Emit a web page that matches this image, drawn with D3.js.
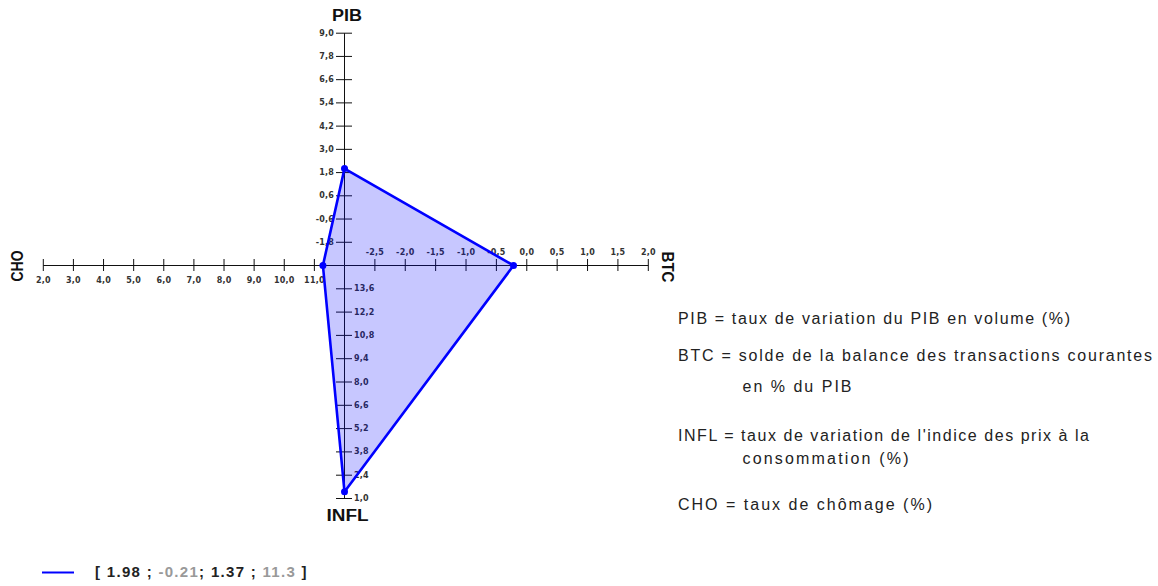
<!DOCTYPE html>
<html>
<head>
<meta charset="utf-8">
<script src="https://cdn.jsdelivr.net/npm/d3@7"></script>
<style>
  body { margin: 0; background: #fff; }
  svg { display: block; }
  .tick text { font-family: "DejaVu Sans", sans-serif; font-size: 8px; font-weight: bold; fill: #333; letter-spacing: 0.2px; }
  .tick line, .domain { stroke: #111; }
</style>
</head>
<body>
<svg id="chart" width="1158" height="586"></svg>
<script>
// axis names and the values of the single series
const axisNames = ["PIB", "BTC", "INFL", "CHO"];
const seriesValues = [1.98, -0.21, 1.37, 11.3];
const valueColors = ["#222", "#999", "#222", "#999"];

// tick values
const pibTicks = [-1.8, -0.6, 0.6, 1.8, 3.0, 4.2, 5.4, 6.6, 7.8, 9.0];
const btcTicks = [-2.5, -2.0, -1.5, -1.0, -0.5, 0.0, 0.5, 1.0, 1.5, 2.0];
const inflTicks = [13.6, 12.2, 10.8, 9.4, 8.0, 6.6, 5.2, 3.8, 2.4, 1.0];
const choTicks = [11, 10, 9, 8, 7, 6, 5, 4, 3, 2];

// scale ends (value at the centre, value at the far end)
const pibDomain = [-3, 9];
const btcDomain = [-3, 2];
const inflDomain = [15, 1];
const choDomain = [12, 2];

// definitions shown at the right
const notes = [
    "PIB = taux de variation du PIB en volume (%)",
    "BTC = solde de la balance des transactions courantes",
    "en % du PIB",
    "INFL = taux de variation de l'indice des prix à la",
    "consommation (%)",
    "CHO = taux de chômage (%)"
];

const svg = d3.select("#chart");
const cx = 344, cy = 265;

const fmt = d3.formatLocale({ decimal: ",", thousands: " ", grouping: [3], currency: ["", ""], minus: "-" }).format(".1f");

const pib = d3.scaleLinear().domain(pibDomain).range([0, -232.3]);
const btc = d3.scaleLinear().domain(btcDomain).range([0, 303.8]);
const infl = d3.scaleLinear().domain(inflDomain).range([0, 233]);
const cho = d3.scaleLinear().domain(choDomain).range([0, -301.2]);

const g = svg.append("g").attr("transform", `translate(${cx},${cy})`);

// four half axes, ticks cross the axis line
g.append("g")
    .call(d3.axisLeft(pib).tickValues(pibTicks).tickFormat(fmt).tickSize(8).tickSizeOuter(0).tickPadding(2))
    .call(a => a.selectAll(".tick line").attr("x1", 8));

g.append("g")
    .call(d3.axisTop(btc).tickValues(btcTicks).tickFormat(fmt).tickSize(6).tickSizeOuter(0).tickPadding(4))
    .call(a => a.selectAll(".tick line").attr("y1", 6));

g.append("g")
    .call(d3.axisRight(infl).tickValues(inflTicks).tickFormat(fmt).tickSize(8).tickSizeOuter(0).tickPadding(2))
    .call(a => a.selectAll(".tick line").attr("x1", -8));

g.append("g")
    .call(d3.axisBottom(cho).tickValues(choTicks).tickFormat(fmt).tickSize(6).tickSizeOuter(0).tickPadding(6))
    .call(a => a.selectAll(".tick line").attr("y1", -6));

g.selectAll(".domain").attr("fill", "none");

// the polygon
const pts = [
    [0.5, pib(seriesValues[0])],
    [btc(seriesValues[1]), 0.5],
    [0.5, infl(seriesValues[2])],
    [cho(seriesValues[3]), 0.5]
];

g.append("path")
    .attr("d", d3.line().curve(d3.curveLinearClosed)(pts))
    .attr("fill", "rgba(0,0,255,0.22)")
    .attr("stroke", "#0000ff")
    .attr("stroke-width", 2.6)
    .attr("stroke-linejoin", "round");

g.selectAll(".pt")
    .data(pts)
    .enter()
    .append("circle")
    .attr("class", "pt")
    .attr("cx", d => d[0])
    .attr("cy", d => d[1])
    .attr("r", 3.5)
    .attr("fill", "#0000ff");

// axis titles
const titleStyle = t => t
    .attr("font-family", "Liberation Sans, Arial, sans-serif")
    .attr("font-weight", "bold")
    .attr("font-size", 16)
    .attr("fill", "#111")
    .attr("text-anchor", "middle")
    .attr("lengthAdjust", "spacingAndGlyphs");

svg.append("text").call(titleStyle)
    .attr("x", 347).attr("y", 21).attr("textLength", 30).text(axisNames[0]);
svg.append("text").call(titleStyle)
    .attr("transform", "translate(662,267) rotate(90)").attr("textLength", 31).text(axisNames[1]);
svg.append("text").call(titleStyle)
    .attr("x", 347.5).attr("y", 521).attr("textLength", 42).text(axisNames[2]);
svg.append("text").call(titleStyle)
    .attr("transform", "translate(23,266) rotate(-90)").attr("textLength", 31).text(axisNames[3]);

// definitions
const noteX = [678, 678, 742.5, 678, 742.5, 678];
const noteY = [324, 361, 392, 441, 464, 510];
const noteW = [392, 474, 109, 411, 166, 254];

svg.selectAll(".note")
    .data(notes)
    .enter()
    .append("text")
    .attr("class", "note")
    .attr("x", (d, i) => noteX[i])
    .attr("y", (d, i) => noteY[i])
    .attr("textLength", (d, i) => noteW[i])
    .attr("lengthAdjust", "spacing")
    .attr("font-family", "Liberation Sans, Arial, sans-serif")
    .attr("font-size", 16)
    .attr("fill", "#222")
    .text(d => d);

// legend
svg.append("line")
    .attr("x1", 42).attr("x2", 74)
    .attr("y1", 572.5).attr("y2", 572.5)
    .attr("stroke", "#0000ff").attr("stroke-width", 2);

const leg = svg.append("text")
    .attr("x", 95).attr("y", 577)
    .attr("font-family", "Liberation Sans, Arial, sans-serif")
    .attr("font-weight", "bold")
    .attr("font-size", 15)
    .attr("letter-spacing", 1.3)
    .attr("fill", "#222");

leg.append("tspan").text("[ ");
seriesValues.forEach((v, i) => {
    leg.append("tspan").attr("fill", valueColors[i]).text(String(v));
    const sep = i === 0 || i === 2 ? " ; " : i === 1 ? "; " : " ]";
    leg.append("tspan").text(sep);
});
</script>
</body>
</html>
